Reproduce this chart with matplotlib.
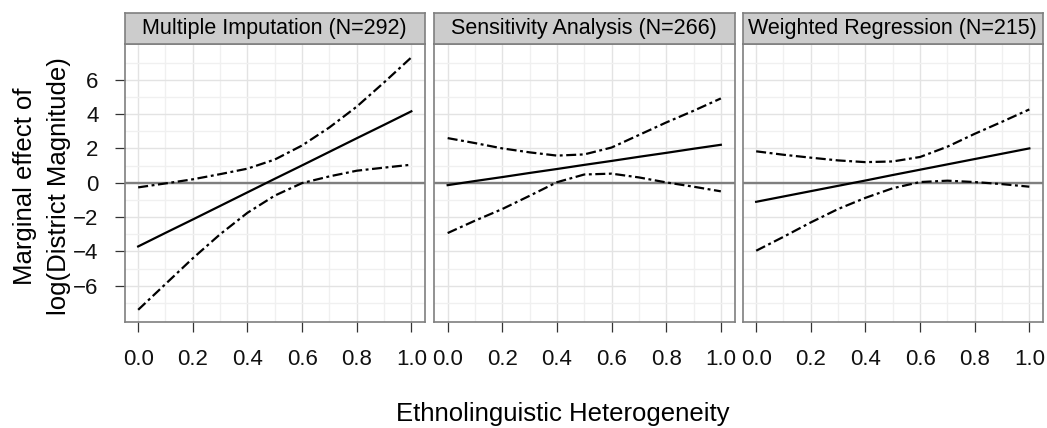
import matplotlib
matplotlib.use("Agg")
import matplotlib.pyplot as plt

plt.rcParams['font.family'] = ['Liberation Sans', 'DejaVu Sans']

# ---- data ----
x_vals = [0.0, 0.1, 0.2, 0.3, 0.4, 0.5, 0.6, 0.7, 0.8, 0.9, 1.0]

panel_titles = ["Multiple Imputation (N=292)",
                "Sensitivity Analysis (N=266)",
                "Weighted Regression (N=215)"]

mi_est = [-3.71, -2.92, -2.14, -1.35, -0.56, 0.23, 1.01, 1.80, 2.59, 3.37, 4.16]
mi_upper = [-0.27, -0.04, 0.20, 0.50, 0.82, 1.35, 2.17, 3.22, 4.43, 5.84, 7.30]
mi_lower = [-7.40, -5.90, -4.40, -3.00, -1.75, -0.75, -0.02, 0.37, 0.70, 0.88, 1.05]

sa_est = [-0.14, 0.10, 0.33, 0.57, 0.80, 1.04, 1.27, 1.51, 1.74, 1.98, 2.21]
sa_upper = [2.60, 2.31, 2.00, 1.77, 1.58, 1.65, 2.05, 2.78, 3.51, 4.19, 4.91]
sa_lower = [-2.93, -2.21, -1.53, -0.76, 0.03, 0.48, 0.53, 0.31, 0.02, -0.23, -0.50]

wr_est = [-1.11, -0.80, -0.49, -0.18, 0.13, 0.45, 0.76, 1.07, 1.38, 1.69, 2.00]
wr_upper = [1.83, 1.63, 1.46, 1.30, 1.20, 1.24, 1.50, 2.10, 2.85, 3.55, 4.27]
wr_lower = [-3.96, -3.15, -2.31, -1.53, -0.88, -0.32, 0.04, 0.12, 0.04, -0.08, -0.23]

x_major = [0.0, 0.2, 0.4, 0.6, 0.8, 1.0]
x_minor = [0.1, 0.3, 0.5, 0.7, 0.9]
y_major = [-6, -4, -2, 0, 2, 4, 6]
y_minor = [-7, -5, -3, -1, 1, 3, 5, 7]

series = [(mi_est, mi_upper, mi_lower),
          (sa_est, sa_upper, sa_lower),
          (wr_est, wr_upper, wr_lower)]

# ---- layout ----
W, H = 1047, 428
fig = plt.figure(figsize=(W / 100, H / 100), dpi=100)

def fx(px):
    return px / W

def fy(py):
    return 1 - py / H

lefts = [124.5, 434.0, 742.5]
pw = 300.5
top, bottom = 44.0, 322.0
strip_top = 13.0

border = '#7f7f7f'
dotdash = (0, (4.5, 1.6, 1.3, 1.6))

for i, (left, title, (est, up, lo)) in enumerate(zip(lefts, panel_titles, series)):
    ax = fig.add_axes([fx(left), fy(bottom), fx(pw), (bottom - top) / H])
    ax.set_xlim(-0.05, 1.05)
    ax.set_ylim(-8.11, 8.08)
    ax.set_xticks(x_major)
    ax.set_xticklabels([f"{v:.1f}" for v in x_major])
    ax.set_xticks(x_minor, minor=True)
    ax.set_yticks(y_major)
    ax.set_yticks(y_minor, minor=True)
    ax.grid(which='major', color='#e3e3e3', lw=1.0)
    ax.grid(which='minor', color='#f0f0f0', lw=1.0)
    ax.set_axisbelow(True)
    for s in ax.spines.values():
        s.set_color(border)
        s.set_linewidth(1.2)
    ax.tick_params(which='minor', length=0)
    ax.tick_params(axis='x', which='major', length=7.2, width=0.9, color='#333333',
                   pad=12.0, labelsize=16, labelcolor='#111111')
    if i == 0:
        ax.tick_params(axis='y', which='major', length=7.2, width=0.9, color='#333333',
                       pad=11.5, labelsize=16, labelcolor='#111111')
    else:
        ax.tick_params(axis='y', which='major', length=0, labelleft=False)

    ax.axhline(0, color='#7f7f7f', lw=1.7, zorder=2)
    ax.plot(x_vals, est, color='black', lw=1.6, zorder=3)
    ax.plot(x_vals, up, color='black', lw=1.6, linestyle=dotdash, zorder=3)
    ax.plot(x_vals, lo, color='black', lw=1.6, linestyle=dotdash, zorder=3)

    sax = fig.add_axes([fx(left), fy(top), fx(pw), (top - strip_top) / H])
    sax.set_facecolor('#cccccc')
    sax.set_xticks([])
    sax.set_yticks([])
    for s in sax.spines.values():
        s.set_color(border)
        s.set_linewidth(1.2)
    sax.text(0.5, 0.5, title, ha='center', va='center', fontsize=15.5,
             color='black', transform=sax.transAxes)

# axis titles
fig.text(fx(563), fy(421), "Ethnolinguistic Heterogeneity", ha='center',
         va='baseline', fontsize=18.5, color='black')
fig.text(fx(31.7), fy(186), "Marginal effect of", rotation=90,
         rotation_mode='anchor', ha='center', va='baseline', fontsize=18.5, color='black')
fig.text(fx(65.7), fy(186), "log(District Magnitude)", rotation=90,
         rotation_mode='anchor', ha='center', va='baseline', fontsize=18.5, color='black')

fig.savefig("out.png", dpi=100)
